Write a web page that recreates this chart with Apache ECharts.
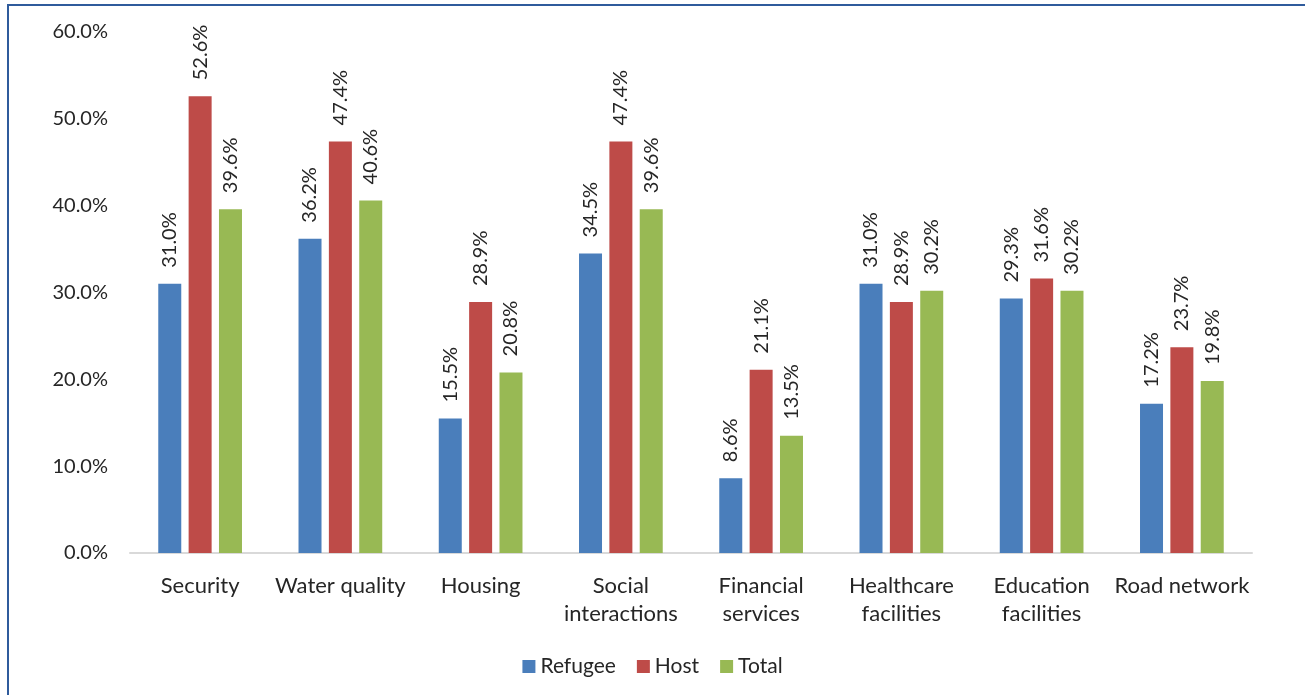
<!DOCTYPE html>
<html>
<head>
<meta charset="utf-8">
<script src="https://cdn.jsdelivr.net/npm/echarts@6/dist/echarts.min.js"></script>
<style>
  html, body { margin: 0; padding: 0; background: #fff; }
  #frame { position: absolute; left: 7px; top: 4px; right: 0; bottom: 0; border-left: 2px solid #2f5b9c; border-top: 2px solid #2f5b9c; }
  #chart { position: absolute; left: 0; top: 0; width: 1305px; height: 695px; }
</style>
</head>
<body>
<div id="frame"></div>
<div id="chart"></div>
<script>
// categories and values (percent)
var categories = ['Security', 'Water quality', 'Housing', 'Social\ninteractions', 'Financial\nservices', 'Healthcare\nfacilities', 'Education\nfacilities', 'Road network'];
var refugee = [31.0, 36.2, 15.5, 34.5, 8.6, 31.0, 29.3, 17.2];
var host = [52.6, 47.4, 28.9, 47.4, 21.1, 28.9, 31.6, 23.7];
var total = [39.6, 40.6, 20.8, 39.6, 13.5, 30.2, 30.2, 19.8];
var yTicks = [0, 10, 20, 30, 40, 50, 60];

var font = 'Lato, "Open Sans", sans-serif';
var txt = '#262626';

function bar(name, data, color) {
  return {
    name: name,
    type: 'bar',
    data: data,
    barWidth: 23,
    barGap: '32%',
    itemStyle: { color: color },
    label: {
      show: true,
      position: 'top',
      rotate: 90,
      align: 'left',
      verticalAlign: 'middle',
      distance: 16,
      fontFamily: font,
      fontSize: 20,
      color: txt,
      formatter: function (p) { return p.value.toFixed(1) + '%'; }
    }
  };
}

var chart = echarts.init(document.getElementById('chart'));
chart.setOption({
  animation: false,
  textStyle: { fontFamily: font },
  grid: { left: 130, right: 53, top: 32, bottom: 142 },
  legend: {
    bottom: 13,
    left: 'center',
    itemWidth: 13,
    itemHeight: 13,
    itemGap: 21,
    icon: 'rect',
    textStyle: { fontFamily: font, fontSize: 21, color: txt },
    data: ['Refugee', 'Host', 'Total']
  },
  xAxis: {
    type: 'category',
    data: categories,
    axisLine: { lineStyle: { color: '#d9d9d9', width: 2 } },
    axisTick: { show: false },
    axisLabel: { fontFamily: font, fontSize: 22, color: txt, margin: 19, lineHeight: 28, interval: 0 }
  },
  yAxis: {
    type: 'value',
    min: yTicks[0],
    max: yTicks[yTicks.length - 1],
    interval: 10,
    axisLine: { show: false },
    axisTick: { show: false },
    splitLine: { show: false },
    axisLabel: { fontFamily: font, fontSize: 20, color: txt, margin: 22, formatter: function (v) { return v.toFixed(1) + '%'; } }
  },
  series: [
    bar('Refugee', refugee, '#4a7ebb'),
    bar('Host', host, '#be4b48'),
    bar('Total', total, '#98b954')
  ]
});
</script>
</body>
</html>
